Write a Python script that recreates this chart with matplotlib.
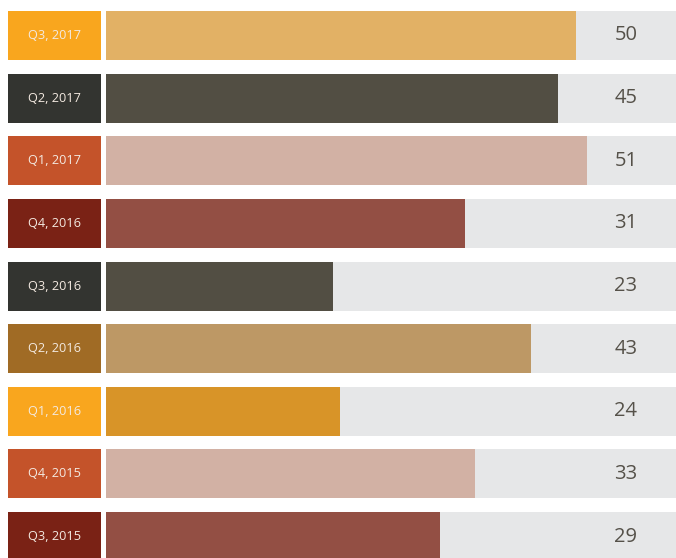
import matplotlib.pyplot as plt

# data
labels = ["Q3, 2017", "Q2, 2017", "Q1, 2017", "Q4, 2016", "Q3, 2016",
          "Q2, 2016", "Q1, 2016", "Q4, 2015", "Q3, 2015"]
values = [50, 45, 51, 31, 23, 43, 24, 33, 29]
# bar fill as a share of the full grey track
fill = [82.5, 79.3, 84.4, 63.0, 39.8, 74.6, 41.1, 64.7, 58.6]
label_colors = ["#F9A61E", "#333430", "#C4532A", "#7A2215", "#333430",
                "#A06B25", "#F9A61E", "#C4532A", "#7A2215"]
bar_colors = ["#E2B165", "#524E43", "#D2B1A4", "#934F44", "#524E43",
              "#BD9865", "#D89428", "#D2B1A4", "#934F44"]


def main() -> None:
    plt.rcParams["font.family"] = ["Open Sans", "DejaVu Sans"]
    W, H = 676, 558
    fig = plt.figure(figsize=(W / 100, H / 100), dpi=100)
    fig.set_facecolor("white")

    pitch = 62.63
    top = 35.5
    ylim = ((H - top) / pitch, -top / pitch)
    hgt = 49 / pitch
    ypos = list(range(len(labels)))

    # label boxes
    axl = fig.add_axes([8 / W, 0, (101 - 8) / W, 1])
    axl.barh(ypos, [1] * len(labels), height=hgt, color=label_colors, left=0)
    for y, lab in zip(ypos, labels):
        axl.text(0.5, y, lab, ha="center", va="center", fontsize=9.2,
                 color="#F3E9E0")
    axl.set_xlim(0, 1)
    axl.set_ylim(*ylim)
    axl.axis("off")

    # bars with grey track
    axb = fig.add_axes([106 / W, 0, (W - 106) / W, 1])
    axb.barh(ypos, [100] * len(labels), height=hgt, color="#E6E7E8")
    axb.barh(ypos, fill, height=hgt, color=bar_colors)
    for y, v in zip(ypos, values):
        axb.text(91.2, y, str(v), ha="center", va="center", fontsize=14.5,
                 color="#555149")
    axb.set_xlim(0, 100)
    axb.set_ylim(*ylim)
    axb.axis("off")

    fig.savefig("out.png", dpi=100)
    plt.close(fig)


if __name__ == "__main__":
    main()
